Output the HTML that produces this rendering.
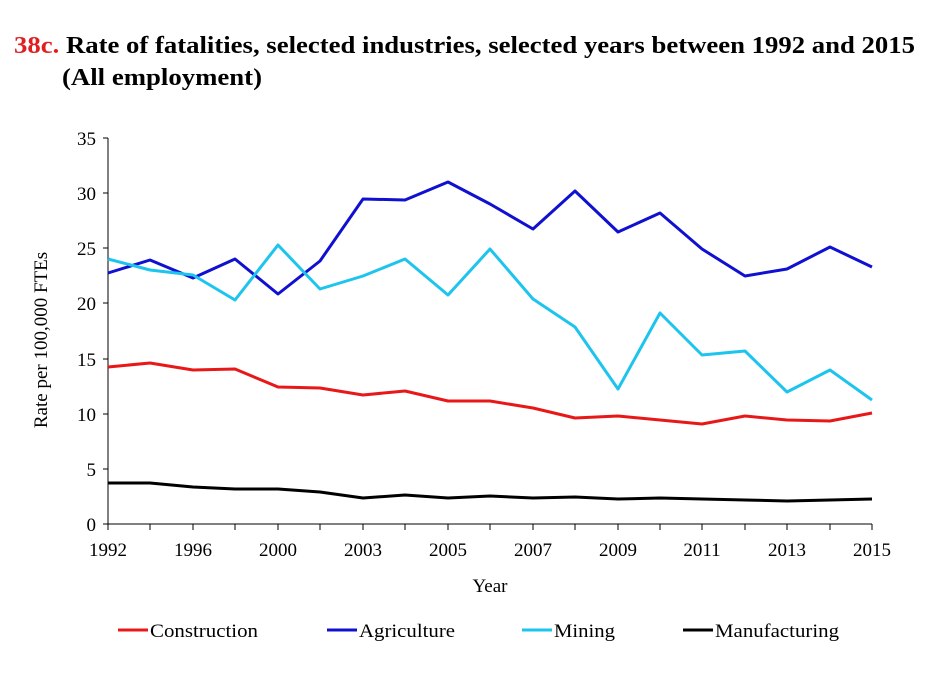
<!DOCTYPE html>
<html><head><style>body{margin:0;background:#fff}</style></head><body>
<svg width="932" height="670" xmlns="http://www.w3.org/2000/svg" font-family="Liberation Serif, serif">
<text x="14" y="53" font-size="24" font-weight="bold" textLength="901" lengthAdjust="spacingAndGlyphs"><tspan fill="#e02020">38c.</tspan> Rate of fatalities, selected industries, selected years between 1992 and 2015</text>
<text x="62" y="85" font-size="24" font-weight="bold" textLength="200" lengthAdjust="spacingAndGlyphs">(All employment)</text>
<g stroke="#000" stroke-width="1">
<line x1="108" y1="138" x2="108" y2="524"/>
<line x1="108" y1="524" x2="872" y2="524"/>
<line x1="103" y1="524" x2="108" y2="524"/><line x1="103" y1="469" x2="108" y2="469"/><line x1="103" y1="414" x2="108" y2="414"/><line x1="103" y1="359" x2="108" y2="359"/><line x1="103" y1="303" x2="108" y2="303"/><line x1="103" y1="248" x2="108" y2="248"/><line x1="103" y1="193" x2="108" y2="193"/><line x1="103" y1="138" x2="108" y2="138"/>
</g>
<g font-size="19" text-anchor="end">
<text x="96" y="531">0</text><text x="96" y="476">5</text><text x="96" y="421">10</text><text x="96" y="366">15</text><text x="96" y="310">20</text><text x="96" y="255">25</text><text x="96" y="200">30</text><text x="96" y="145">35</text>
</g>
<g font-size="19" text-anchor="middle">
<text x="108" y="556">1992</text><text x="193" y="556">1996</text><text x="278" y="556">2000</text><text x="363" y="556">2003</text><text x="448" y="556">2005</text><text x="533" y="556">2007</text><text x="618" y="556">2009</text><text x="702" y="556">2011</text><text x="787" y="556">2013</text><text x="872" y="556">2015</text>
<text x="490" y="592">Year</text>
<text transform="translate(47,340) rotate(-90)">Rate per 100,000 FTEs</text>
</g>
<g fill="none" stroke-width="3" stroke-linejoin="round">
<polyline stroke="#1010d0" points="108,273 150,260 193,278 235,259 278,294 320,261 363,199 405,200 448,182 490,204 533,229 575,191 618,232 660,213 702,249 745,276 787,269 830,247 872,267"/>
<polyline stroke="#1cc4ee" points="108,259 150,270 193,275 235,300 278,245 320,289 363,276 405,259 448,295 490,249 533,299 575,327 618,389 660,313 702,355 745,351 787,392 830,370 872,400"/>
<polyline stroke="#e81818" points="108,367 150,363 193,370 235,369 278,387 320,388 363,395 405,391 448,401 490,401 533,408 575,418 618,416 660,420 702,424 745,416 787,420 830,421 872,413"/>
<polyline stroke="#000" points="108,483 150,483 193,487 235,489 278,489 320,492 363,498 405,495 448,498 490,496 533,498 575,497 618,499 660,498 702,499 745,500 787,501 830,500 872,499"/>
</g>
<g stroke-width="3">
<line x1="118" y1="630" x2="148" y2="630" stroke="#e81818"/>
<line x1="327" y1="630" x2="357" y2="630" stroke="#1010d0"/>
<line x1="522" y1="630" x2="552" y2="630" stroke="#1cc4ee"/>
<line x1="683" y1="630" x2="713" y2="630" stroke="#000"/>
</g>
<g font-size="19">
<text x="150" y="637" textLength="108" lengthAdjust="spacingAndGlyphs">Construction</text><text x="359" y="637" textLength="96" lengthAdjust="spacingAndGlyphs">Agriculture</text><text x="554" y="637" textLength="61" lengthAdjust="spacingAndGlyphs">Mining</text><text x="715" y="637" textLength="124" lengthAdjust="spacingAndGlyphs">Manufacturing</text>
</g>
<g stroke="#000">
<line x1="108" y1="524" x2="108" y2="530"/><line x1="150" y1="524" x2="150" y2="530"/><line x1="193" y1="524" x2="193" y2="530"/><line x1="235" y1="524" x2="235" y2="530"/><line x1="278" y1="524" x2="278" y2="530"/><line x1="320" y1="524" x2="320" y2="530"/><line x1="363" y1="524" x2="363" y2="530"/><line x1="405" y1="524" x2="405" y2="530"/><line x1="448" y1="524" x2="448" y2="530"/><line x1="490" y1="524" x2="490" y2="530"/><line x1="533" y1="524" x2="533" y2="530"/><line x1="575" y1="524" x2="575" y2="530"/><line x1="618" y1="524" x2="618" y2="530"/><line x1="660" y1="524" x2="660" y2="530"/><line x1="702" y1="524" x2="702" y2="530"/><line x1="745" y1="524" x2="745" y2="530"/><line x1="787" y1="524" x2="787" y2="530"/><line x1="830" y1="524" x2="830" y2="530"/><line x1="872" y1="524" x2="872" y2="530"/>
</g>
</svg>
</body></html>
